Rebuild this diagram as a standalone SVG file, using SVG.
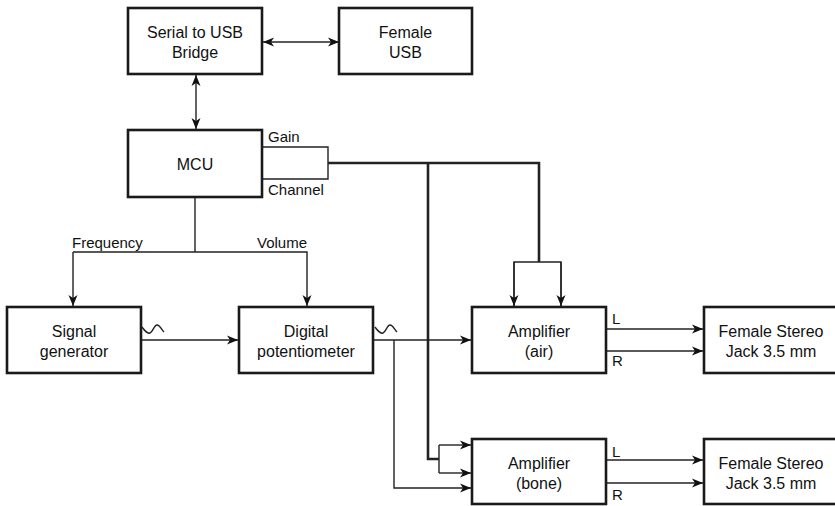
<svg xmlns="http://www.w3.org/2000/svg" width="835" height="506" viewBox="0 0 835 506">
<defs>
<marker id="ah" markerWidth="12" markerHeight="10" refX="11" refY="5" orient="auto-start-reverse" markerUnits="userSpaceOnUse">
<path d="M0,0.5 L11,5 L0,9.5 L3,5 Z" fill="#111"/>
</marker>
<style>
.box{fill:#fff;stroke:#1a1a1a;stroke-width:2.6}
.t{font-family:"Liberation Sans",Arial,sans-serif;font-size:16px;fill:#111;text-anchor:middle}
.l{font-family:"Liberation Sans",Arial,sans-serif;font-size:15px;fill:#111}
.w{fill:none;stroke:#222;stroke-width:1.4}
.k{fill:none;stroke:#222;stroke-width:2.6}
.a{marker-end:url(#ah)}
</style>
</defs>
<rect width="835" height="506" fill="#fff"/>
<g id="connectors">
<line class="w a" x1="263" y1="42" x2="339" y2="42" style="marker-start:url(#ah)"/>
<line class="w a" x1="196" y1="75" x2="196" y2="129" style="marker-start:url(#ah)"/>
<polyline class="w" points="262,147 328,147 328,179 262,179"/>
<polyline class="k" points="328,163 539,163 539,262"/>
<polyline class="k" points="428,163 428,459 439,459"/>
<polyline class="w" points="514,307 514,262 561,262 561,307"/>
<line class="w a" x1="514" y1="262" x2="514" y2="306"/>
<line class="w a" x1="561" y1="262" x2="561" y2="306"/>
<line class="w" x1="195" y1="198" x2="195" y2="252"/>
<polyline class="w a" points="73,252 307,252 307,306"/>
<line class="w a" x1="73" y1="252" x2="73" y2="306"/>
<line class="w a" x1="142" y1="340" x2="238" y2="340"/>
<line class="w a" x1="374" y1="340" x2="471" y2="340"/>
<polyline class="w a" points="394,340 394,488 471,488"/>
<polyline class="w" points="439,445 439,473"/>
<line class="w a" x1="439" y1="445" x2="471" y2="445"/>
<line class="w a" x1="439" y1="473" x2="471" y2="473"/>
<line class="w a" x1="607" y1="329" x2="703" y2="329"/>
<line class="w a" x1="607" y1="351" x2="703" y2="351"/>
<line class="w a" x1="607" y1="460" x2="703" y2="460"/>
<line class="w a" x1="607" y1="483" x2="703" y2="483"/>
<path class="w" d="M142,327 C145,331 147,334 150,333 C153,332 154,325 157,325 C160,325 161,329 164,332"/>
<path class="w" d="M375,327 C378,331 380,334 383,333 C386,332 387,325 390,325 C393,325 394,329 397,332"/>
<text class="l" x="268" y="142">Gain</text>
<text class="l" x="268" y="195">Channel</text>
<text class="l" x="72" y="248">Frequency</text>
<text class="l" x="257" y="248">Volume</text>
<text class="l" x="612" y="324">L</text>
<text class="l" x="612" y="366">R</text>
<text class="l" x="612" y="457">L</text>
<text class="l" x="612" y="500">R</text>
</g>
<g id="bridge"><rect class="box" x="128" y="8" width="134" height="66"/><text class="t" x="195" y="38">Serial to USB</text><text class="t" x="195" y="58">Bridge</text></g>
<g id="usb"><rect class="box" x="339" y="8" width="133" height="66"/><text class="t" x="405.5" y="38">Female</text><text class="t" x="405.5" y="58">USB</text></g>
<g id="mcu"><rect class="box" x="128" y="130" width="134" height="67"/><text class="t" x="195" y="170">MCU</text></g>
<g id="siggen"><rect class="box" x="7" y="307" width="134" height="66"/><text class="t" x="74" y="337">Signal</text><text class="t" x="74" y="357">generator</text></g>
<g id="digipot"><rect class="box" x="239" y="307" width="134" height="66"/><text class="t" x="306" y="337">Digital</text><text class="t" x="306" y="357">potentiometer</text></g>
<g id="ampair"><rect class="box" x="472" y="307" width="134" height="66"/><text class="t" x="539" y="337">Amplifier</text><text class="t" x="539" y="357">(air)</text></g>
<g id="jackair"><rect class="box" x="704" y="307" width="134" height="66"/><text class="t" x="771" y="337">Female Stereo</text><text class="t" x="771" y="357">Jack 3.5 mm</text></g>
<g id="ampbone"><rect class="box" x="472" y="439" width="134" height="65"/><text class="t" x="539" y="469">Amplifier</text><text class="t" x="539" y="489">(bone)</text></g>
<g id="jackbone"><rect class="box" x="704" y="439" width="134" height="65"/><text class="t" x="771" y="469">Female Stereo</text><text class="t" x="771" y="489">Jack 3.5 mm</text></g>
</svg>
